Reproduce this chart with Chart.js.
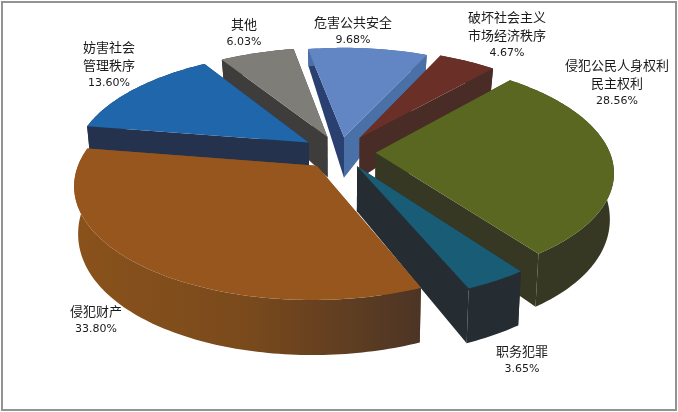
<!DOCTYPE html>
<html>
<head>
<meta charset="utf-8">
<style>
body { margin: 0; background: #fff; }
#wrap { position: relative; width: 678px; height: 412px; }
#frame { position: absolute; left: 1px; top: 1px; right: 1px; bottom: 1px; border: 2px solid #939393; pointer-events: none; }
</style>
<script src="https://cdn.jsdelivr.net/npm/chart.js@4/dist/chart.umd.min.js"></script>
</head>
<body>
<div id="wrap">
<canvas id="chart" width="678" height="412"></canvas>
<div id="frame"></div>
</div>
<script>
const categories = ['危害公共安全', '破坏社会主义市场经济秩序', '侵犯公民人身权利民主权利', '职务犯罪', '侵犯财产', '妨害社会管理秩序', '其他'];
const shares = [9.68, 4.67, 28.56, 3.65, 33.80, 13.60, 6.03];
const percentLabels = ['9.68%', '4.67%', '28.56%', '3.65%', '33.80%', '13.60%', '6.03%'];

const topColors = ['#6286c4', '#6a2f27', '#5a6720', '#195c75', '#96561e', '#2066ab', '#7f7d78'];
const rimColors = ['#4a70a8', '#4a2c27', '#363823', '#252d33', '#7f4c1a', '#24324d', '#3f3d3b'];
const endWallColors = ['#4a70a8', '#4a2c27', '#363823', '#252d33', '#7f4c1a', '#24324d', '#3f3d3b'];
const startWallColors = ['#2a4070', '#4a2c27', '#363823', '#252d33', '#7f4c1a', '#24324d', '#3f3d3b'];
const explode = [27, 30, 29, 28, 30, 31, 29];
const drawOrder = [6, 0, 1, 5, 2, 3, 4];

// label lines and the pixel spot of each label's centre column / first baseline
const labelLines = [['危害公共安全'], ['破坏社会主义', '市场经济秩序'], ['侵犯公民人身权利', '民主权利'], ['职务犯罪'], ['侵犯财产'], ['妨害社会', '管理秩序'], ['其他']];
const labelSpots = [[353, 27], [507, 22], [617, 70], [522, 356], [96, 316], [109, 52], [244, 29]];

// ground plane to screen, simple perspective
const cx = 340, cy = 152, scaleX = 234, scaleY = 108, persp = 0.16;
function project(u, v) {
    const w = 1 / (1 - persp * v);
    return [cx + scaleX * u * w, cy + scaleY * v * w];
}
function drop(u, v) {
    const p = project(u, v);
    const d = 43 + 16.8 * v - 5.4 * v * v;
    return [cx + (p[0] - cx) * 0.985, p[1] + d];
}

function fillPoly(ctx, pts, color) {
    ctx.beginPath();
    pts.forEach((p, i) => i ? ctx.lineTo(p[0], p[1]) : ctx.moveTo(p[0], p[1]));
    ctx.closePath();
    ctx.fillStyle = color;
    ctx.fill();
}

function drawWedge(ctx, arc, i) {
    const a = arc.getProps(['startAngle', 'endAngle', 'outerRadius'], true);
    const mid = (a.startAngle + a.endAngle) / 2;
    const ou = arc.options.offset * Math.cos(mid) / a.outerRadius;
    const ov = arc.options.offset * Math.sin(mid) / a.outerRadius;
    const rim = [];
    const steps = Math.ceil((a.endAngle - a.startAngle) / 0.02);
    for (let s = 0; s <= steps; s++) {
        const t = a.startAngle + (a.endAngle - a.startAngle) * s / steps;
        rim.push([ou + Math.cos(t), ov + Math.sin(t)]);
    }
    const top = rim.map(r => project(r[0], r[1]));
    const bottom = rim.map(r => drop(r[0], r[1]));
    const apexTop = project(ou, ov);
    const apexBottom = drop(ou, ov);

    fillPoly(ctx, [apexTop, top[0], bottom[0], apexBottom], startWallColors[i]);
    fillPoly(ctx, [apexTop, top[steps], bottom[steps], apexBottom], endWallColors[i]);

    let rimFill = rimColors[i];
    if (categories[i] === '侵犯财产') {
        rimFill = ctx.createLinearGradient(73, 0, 418, 0);
        rimFill.addColorStop(0, '#8a521b');
        rimFill.addColorStop(0.5, '#7a4a1c');
        rimFill.addColorStop(1, '#4d3525');
    }
    fillPoly(ctx, top.concat(bottom.slice().reverse()), rimFill);
    fillPoly(ctx, [apexTop].concat(top), topColors[i]);
}

const pie3d = {
    id: 'pie3d',
    beforeDatasetDraw: () => false,
    afterDatasetsDraw(chart) {
        const ctx = chart.ctx;
        const arcs = chart.getDatasetMeta(0).data;
        ctx.save();
        drawOrder.forEach(i => drawWedge(ctx, arcs[i], i));
        ctx.textAlign = 'center';
        ctx.fillStyle = '#1a1a1a';
        categories.forEach((c, i) => {
            const spot = labelSpots[i];
            ctx.font = '13px "Noto Sans CJK SC"';
            labelLines[i].forEach((line, k) => ctx.fillText(line, spot[0], spot[1] + k * 18));
            ctx.font = '11px "DejaVu Sans"';
            ctx.fillText(percentLabels[i], spot[0], spot[1] + labelLines[i].length * 18 - 2);
        });
        ctx.restore();
    }
};

new Chart(document.getElementById('chart'), {
    type: 'pie',
    data: {
        labels: categories,
        datasets: [{ data: shares, backgroundColor: topColors, offset: explode, borderWidth: 0 }]
    },
    options: {
        responsive: false,
        animation: false,
        devicePixelRatio: 1,
        rotation: -10.3,
        plugins: { legend: { display: false }, tooltip: { enabled: false } }
    },
    plugins: [pie3d]
});
</script>
</body>
</html>
